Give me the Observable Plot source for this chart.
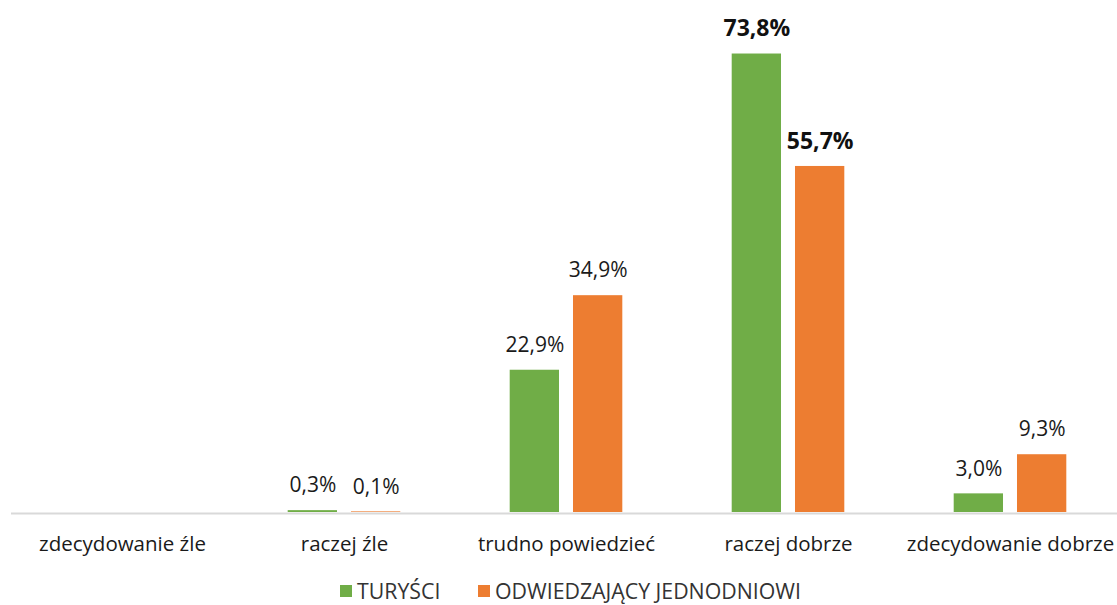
<!DOCTYPE html>
<html>
<head>
<meta charset="utf-8">
<script src="https://cdn.jsdelivr.net/npm/d3@7"></script>
<script src="https://cdn.jsdelivr.net/npm/@observablehq/plot@0.6"></script>
<style>
  html, body { margin: 0; padding: 0; background: #fff; overflow: hidden; }
  #chart { position: relative; width: 1117px; height: 605px; overflow: hidden; }
  #chart svg { max-width: none !important; }
  .legend { position: absolute; top: 576px; left: 0; width: 1117px; font-family: "Open Sans", sans-serif; font-size: 21.3px; color: #333; }
  .legend .item { position: absolute; top: 0; display: flex; align-items: center; white-space: nowrap; }
  .legend .sw { width: 12px; height: 12px; margin-right: 5px; }
</style>
</head>
<body>
<div id="chart"></div>
<script>
const categories = ["zdecydowanie źle", "raczej źle", "trudno powiedzieć", "raczej dobrze", "zdecydowanie dobrze"];
const seriesNames = ["TURYŚCI", "ODWIEDZAJĄCY JEDNODNIOWI"];
const seriesColors = ["#70ad47", "#ed7d31"];
const turysci = [null, 0.3, 22.9, 73.8, 3.0];
const jednodniowi = [null, 0.1, 34.9, 55.7, 9.3];
const boldCategories = ["raczej dobrze"];

const data = [];
categories.forEach((c, i) => {
  data.push({category: c, series: seriesNames[0], value: turysci[i]});
  data.push({category: c, series: seriesNames[1], value: jednodniowi[i]});
});
const withValues = data.filter(d => d.value != null);
const fmt = v => v.toFixed(1).replace(".", ",") + "%";

const plot = Plot.plot({
  width: 1121,
  height: 575,
  marginLeft: 11,
  marginRight: 0,
  marginTop: 15,
  marginBottom: 63,
  style: {fontFamily: "Open Sans, sans-serif", fontSize: "20px", background: "transparent", overflow: "visible", maxWidth: "none"},
  fx: {domain: categories, padding: 0, label: null, axis: "bottom", tickSize: 0, tickPadding: 24, round: false},
  x: {domain: seriesNames, paddingInner: 0.221, paddingOuter: 0.864, axis: null, round: false},
  y: {domain: [0, 80], axis: null},
  color: {domain: seriesNames, range: seriesColors},
  marks: [
    Plot.ruleY(categories, {fx: d => d, y: 0, stroke: "#d9d9d9", strokeWidth: 2, dy: 1}),
    Plot.barY(withValues, {fx: "category", x: "series", y: "value", fill: "series"}),
    Plot.text(withValues.filter(d => !boldCategories.includes(d.category)), {
      fx: "category", x: "series", y: "value", text: d => fmt(d.value), dy: -25,
      fontSize: 21, fill: "#1a1a1a"
    }),
    Plot.text(withValues.filter(d => boldCategories.includes(d.category)), {
      fx: "category", x: "series", y: "value", text: d => fmt(d.value), dy: -25,
      fontSize: 23, fontWeight: "bold", fill: "#111"
    })
  ]
});
plot.style.maxWidth = "none";
document.getElementById("chart").appendChild(plot);
d3.select(plot).selectAll("g[aria-label='fx-axis tick label']").attr("font-size", 20.5).attr("fill", "#1a1a1a");

const legend = document.createElement("div");
legend.className = "legend";
const positions = [340, 478];
seriesNames.forEach((s, i) => {
  const item = document.createElement("div");
  item.className = "item";
  item.style.left = positions[i] + "px";
  const sw = document.createElement("span");
  sw.className = "sw";
  sw.style.background = seriesColors[i];
  const t = document.createElement("span");
  t.textContent = s;
  item.appendChild(sw);
  item.appendChild(t);
  legend.appendChild(item);
});
document.getElementById("chart").appendChild(legend);
</script>
</body>
</html>
